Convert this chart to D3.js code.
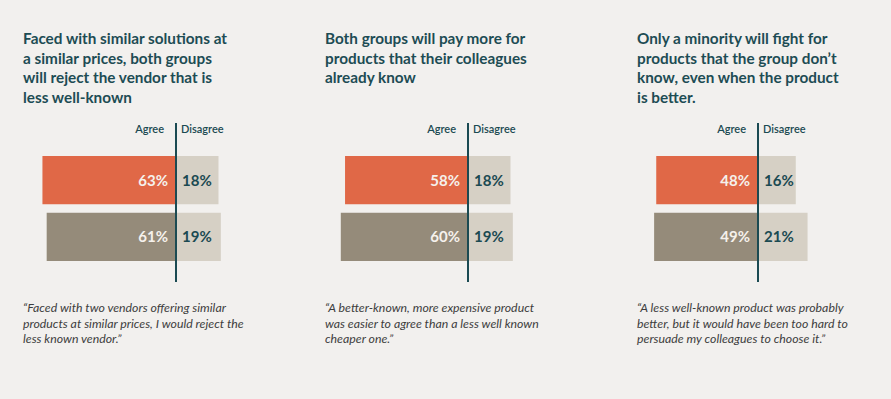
<!DOCTYPE html>
<html>
<head>
<meta charset="utf-8">
<script src="https://cdn.jsdelivr.net/npm/d3@7"></script>
<style>
  html, body { margin: 0; padding: 0; background: #f2f0ee; }
  svg { display: block; }
</style>
</head>
<body>
<svg id="chart" width="891" height="399"></svg>
<script>
// data
const titles = [
    ["Faced with similar solutions at", "a similar prices, both groups", "will reject the vendor that is", "less well-known"],
    ["Both groups will pay more for", "products that their colleagues", "already know"],
    ["Only a minority will fight for", "products that the group don\u2019t", "know, even when the product", "is better."]
]
const quotes = [
    ["\u201CFaced with two vendors offering similar", "products at similar prices, I would reject the", "less known vendor.\u201D"],
    ["\u201CA better-known, more expensive product", "was easier to agree than a less well known", "cheaper one.\u201D"],
    ["\u201CA less well-known product was probably", "better, but it would have been too hard to", "persuade my colleagues to choose it.\u201D"]
]
const groups = ["g1", "g2"]
const agree = [[63, 61], [58, 60], [48, 49]]
const disagree = [[18, 19], [18, 19], [16, 21]]

const svg = d3.select("#chart")
const TEAL = "#1b4a52"
const AGREE_COLORS = ["#e06847", "#958b7a"]
const DISAGREE_COLOR = "#d6d0c5"
const PANEL_X = [23, 325, 637]
const AXIS_X = [176, 468, 758]

// bar length scales (px per percent), the source draws the two sides slightly differently
let xAgree = d3.scaleLinear().domain([0, 100]).range([0, 212])
let xDis = d3.scaleLinear().domain([0, 100]).range([0, 236])
let ys = d3.scaleBand()
    .domain(groups)
    .range([156, 261])
    .paddingInner(0.15)
    .paddingOuter(0)
const bh = ys.bandwidth()

svg.append("rect")
    .attr("width", 891).attr("height", 399)
    .style("fill", "#f2f0ee")

titles.forEach((lines, i) => {
    let g = svg.append("g")
    let px = PANEL_X[i]
    let ax = AXIS_X[i]

    // title
    g.append("text")
        .attr("x", px)
        .attr("y", 44)
        .style("font-family", "Lato, sans-serif")
        .style("font-weight", 700)
        .style("font-size", "15.3px")
        .style("fill", "#1d4c54")
        .selectAll("tspan")
        .data(lines)
        .enter()
        .append("tspan")
        .attr("x", px)
        .attr("dy", (d, j) => j === 0 ? 0 : 19.5)
        .text(d => d)

    // header labels
    g.append("text")
        .text("Agree")
        .attr("x", ax - 12)
        .attr("y", 133)
        .style("text-anchor", "end")
        .style("font-family", "Lato, sans-serif")
        .style("font-size", "11px")
        .style("font-weight", 600)
        .style("fill", TEAL)
    g.append("text")
        .text("Disagree")
        .attr("x", ax + 5)
        .attr("y", 133)
        .style("font-family", "Lato, sans-serif")
        .style("font-size", "11px")
        .style("font-weight", 600)
        .style("fill", TEAL)

    // agree bars
    g.selectAll("rect.agree")
        .data(groups)
        .enter()
        .append("rect")
        .attr("class", "agree")
        .attr("x", (d, j) => ax - xAgree(agree[i][j]))
        .attr("y", d => ys(d))
        .attr("width", (d, j) => xAgree(agree[i][j]))
        .attr("height", bh)
        .style("fill", (d, j) => AGREE_COLORS[j])

    // disagree bars
    g.selectAll("rect.disagree")
        .data(groups)
        .enter()
        .append("rect")
        .attr("class", "disagree")
        .attr("x", ax)
        .attr("y", d => ys(d))
        .attr("width", (d, j) => xDis(disagree[i][j]))
        .attr("height", bh)
        .style("fill", DISAGREE_COLOR)

    // value labels
    g.selectAll("text.agree-lbl")
        .data(groups)
        .enter()
        .append("text")
        .attr("class", "agree-lbl")
        .text((d, j) => agree[i][j] + "%")
        .attr("x", ax - 8)
        .attr("y", d => ys(d) + bh / 2 + 5.5)
        .style("text-anchor", "end")
        .style("font-family", "Lato, sans-serif")
        .style("font-weight", 700)
        .style("font-size", "15px")
        .style("fill", "#f5f1ec")
    g.selectAll("text.dis-lbl")
        .data(groups)
        .enter()
        .append("text")
        .attr("class", "dis-lbl")
        .text((d, j) => disagree[i][j] + "%")
        .attr("x", ax + 6)
        .attr("y", d => ys(d) + bh / 2 + 5.5)
        .style("font-family", "Lato, sans-serif")
        .style("font-weight", 700)
        .style("font-size", "15px")
        .style("fill", TEAL)

    // centre line
    g.append("line")
        .attr("x1", ax).attr("x2", ax)
        .attr("y1", 123).attr("y2", 282)
        .style("stroke", TEAL)
        .style("stroke-width", 2)

    // quote
    g.append("text")
        .attr("x", px)
        .attr("y", 312)
        .style("font-family", "Lato, sans-serif")
        .style("font-style", "italic")
        .style("font-size", "12.3px")
        .style("fill", "#3d3d3d")
        .selectAll("tspan")
        .data(quotes[i])
        .enter()
        .append("tspan")
        .attr("x", px)
        .attr("dy", (d, j) => j === 0 ? 0 : 15.5)
        .text(d => d)
})
</script>
</body>
</html>
